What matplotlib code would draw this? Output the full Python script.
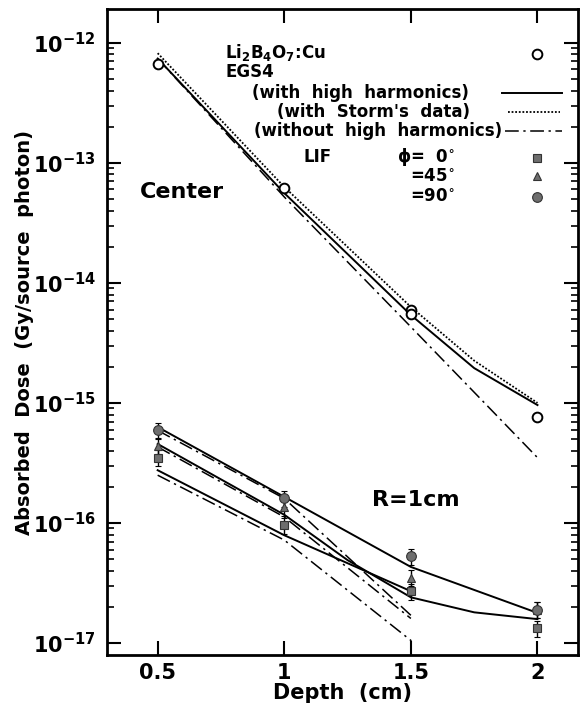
import numpy as np
import matplotlib
matplotlib.use("Agg")
import matplotlib.pyplot as plt
from matplotlib.ticker import FixedLocator, NullFormatter, FuncFormatter

plt.rcParams['font.family'] = ['DejaVu Sans']
plt.rcParams['font.weight'] = 'bold'
plt.rcParams['mathtext.fontset'] = 'custom'
plt.rcParams['mathtext.rm'] = 'DejaVu Sans:bold'
plt.rcParams['mathtext.bf'] = 'DejaVu Sans:bold'
plt.rcParams['mathtext.it'] = 'DejaVu Sans:bold'

# --- centre of phantom ---
li_depth = [0.5, 1.0, 1.5, 1.5, 2.0]
li_dose = [6.7e-13, 6.2e-14, 5.9e-15, 5.5e-15, 7.6e-16]

hh_c_depth = [0.5, 1.0, 1.5, 1.75, 2.0]
hh_c_dose = [7.4e-13, 5.6e-14, 5.4e-15, 1.95e-15, 9.6e-16]
storm_c_depth = [0.5, 1.0, 1.5, 1.75, 2.0]
storm_c_dose = [8.2e-13, 6.3e-14, 6.3e-15, 2.25e-15, 1.0e-15]
nohh_c_depth = [0.5, 1.0, 1.5, 2.0]
nohh_c_dose = [7.4e-13, 5.2e-14, 4.3e-15, 3.5e-16]

# --- R = 1 cm, LiF readings ---
lif_depth = [0.5, 1.0, 1.5, 2.0]
lif_phi0 = [3.5e-16, 9.6e-17, 2.7e-17, 1.33e-17]
lif_phi45 = [4.4e-16, 1.35e-16, 3.5e-17, 1.9e-17]
lif_phi90 = [5.9e-16, 1.6e-16, 5.3e-17, 1.9e-17]
lif_err = 0.15

# EGS4 with high harmonics
hh90_depth = [0.5, 1.0, 1.5, 2.0]
hh90_dose = [6.3e-16, 1.65e-16, 4.3e-17, 1.78e-17]
hh45_depth = [0.5, 1.0, 1.25, 1.5, 1.75, 2.0]
hh45_dose = [4.55e-16, 1.17e-16, 4.9e-17, 2.4e-17, 1.8e-17, 1.58e-17]
hh0_depth = [0.5, 1.0, 1.5]
hh0_dose = [2.75e-16, 7.9e-17, 2.7e-17]

# EGS4 without high harmonics
no90_depth = [0.5, 1.0, 1.5]
no90_dose = [5.9e-16, 1.6e-16, 1.7e-17]
no45_depth = [0.5, 1.0, 1.5]
no45_dose = [4.3e-16, 1.12e-16, 1.6e-17]
no0_depth = [0.5, 1.0, 1.5, 1.5]
no0_dose = [2.5e-16, 7.2e-17, 1.05e-17, 5e-18]

y_decades = [-17, -16, -15, -14, -13, -12]

dashdot = (0, (9, 3, 1.5, 3))
lw = 1.4

fig = plt.figure(figsize=(5.88, 7.10), dpi=100)
ax = fig.add_axes([0.182, 0.0775, 0.801, 0.9095])

ax.plot(hh_c_depth, hh_c_dose, color='black', lw=lw)
ax.plot(storm_c_depth, storm_c_dose, color='black', lw=1.3, ls=(0, (1, 1)))
ax.plot(nohh_c_depth, nohh_c_dose, color='black', lw=1.1, ls=dashdot)
ax.plot(li_depth, li_dose, ls='none', marker='o', ms=7, mfc='white',
        mec='black', mew=1.4)

for d, v in [(hh90_depth, hh90_dose), (hh45_depth, hh45_dose), (hh0_depth, hh0_dose)]:
    ax.plot(d, v, color='black', lw=lw)
for d, v in [(no90_depth, no90_dose), (no45_depth, no45_dose), (no0_depth, no0_dose)]:
    ax.plot(d, v, color='black', lw=1.1, ls=dashdot)

gray = '#6e6e6e'
for vals, mk, ms in [(lif_phi0, 's', 5.5), (lif_phi45, '^', 6), (lif_phi90, 'o', 7)]:
    vals = np.array(vals)
    ax.errorbar(lif_depth, vals, yerr=[vals * lif_err, vals * lif_err],
                ls='none', marker=mk, ms=ms, mfc=gray, mec='#333333',
                mew=0.8, ecolor='black', elinewidth=1.0, capsize=2.5)

ax.set_yscale('log')
ax.set_xlim(0.3, 2.16)
ax.set_ylim(10 ** -17.1, 10 ** -11.72)

major_y = [10.0 ** e for e in y_decades]
minor_y = [m * 10.0 ** e for e in y_decades[:-1] for m in range(2, 10)]
minor_y += [m * 1e-12 for m in (2, 3, 4, 5, 6, 7, 8, 9) if m * 1e-12 < 10 ** -11.72]
ax.xaxis.set_major_locator(FixedLocator([0.5, 1, 1.5, 2]))
ax.xaxis.set_major_formatter(FuncFormatter(lambda v, p: f'{v:g}'))
ax.yaxis.set_major_locator(FixedLocator(major_y))
ax.yaxis.set_minor_locator(FixedLocator(minor_y))
ax.yaxis.set_minor_formatter(NullFormatter())
ax.yaxis.set_major_formatter(
    FuncFormatter(lambda v, p: r'$\mathbf{10^{%d}}$' % round(np.log10(v))))

ax.tick_params(which='major', direction='in', length=10, width=1.5,
               top=True, right=True, labelsize=15, pad=6)
ax.tick_params(axis='y', which='major', pad=8)
ax.tick_params(which='minor', direction='in', length=5, width=1.2,
               top=True, right=True)
for lab in ax.get_xticklabels() + ax.get_yticklabels():
    lab.set_fontweight('bold')
for sp in ax.spines.values():
    sp.set_linewidth(2)

ax.set_xlabel('Depth  (cm)', fontsize=15, fontweight='bold', labelpad=0)
ax.set_ylabel('Absorbed  Dose  (Gy/source  photon)', fontsize=14,
              fontweight='bold', labelpad=-1)

# annotation block
fs = 12
tr = ax.transAxes


def fx(px):
    return (px - 107) / 471.0


def fy(py):
    return (655 - py) / 646.0


ax.text(fx(225), fy(52), r'Li$_2$B$_4$O$_7$:Cu', transform=tr, fontsize=fs,
        va='center', ha='left', fontweight='bold')
ax.text(fx(225), fy(72), 'EGS4', transform=tr, fontsize=fs, va='center',
        ha='left', fontweight='bold')
ax.text(fx(252), fy(93), '(with  high  harmonics)', transform=tr, fontsize=fs,
        va='center', ha='left', fontweight='bold')
ax.text(fx(277), fy(112), "(with  Storm's  data)", transform=tr, fontsize=fs,
        va='center', ha='left', fontweight='bold')
ax.text(fx(254), fy(131), '(without  high  harmonics)', transform=tr,
        fontsize=fs, va='center', ha='left', fontweight='bold')
ax.text(fx(303), fy(157), 'LIF', transform=tr, fontsize=fs, va='center',
        ha='left', fontweight='bold')
ax.text(fx(397), fy(157), r'$\mathbf{\phi}$=  0$^{\circ}$', transform=tr,
        fontsize=fs, va='center', ha='left', fontweight='bold')
ax.text(fx(410), fy(177), r'=45$^{\circ}$', transform=tr, fontsize=fs,
        va='center', ha='left', fontweight='bold')
ax.text(fx(410), fy(197), r'=90$^{\circ}$', transform=tr, fontsize=fs,
        va='center', ha='left', fontweight='bold')

ax.plot([fx(537)], [fy(54)], transform=tr, marker='o', ms=7, mfc='white',
        mec='black', mew=1.4, clip_on=False)
ax.plot([fx(502), fx(562)], [fy(93)] * 2, transform=tr, color='black', lw=lw)
ax.plot([fx(508), fx(560)], [fy(112)] * 2, transform=tr, color='black',
        lw=1.3, ls=(0, (1, 1)))
ax.plot([fx(505), fx(562)], [fy(131)] * 2, transform=tr, color='black',
        lw=1.1, ls=dashdot)
for py, mk, ms in [(158, 's', 5.5), (176, '^', 6), (197, 'o', 7)]:
    ax.plot([fx(537)], [fy(py)], transform=tr, marker=mk, ms=ms, mfc=gray,
            mec='#333333', mew=0.8)

ax.text(fx(140), fy(192), 'Center', transform=tr, fontsize=16,
        va='center', ha='left', fontweight='bold')
ax.text(fx(372), fy(500), 'R=1cm', transform=tr, fontsize=16,
        va='center', ha='left', fontweight='bold')

fig.savefig('out.png', dpi=100)
